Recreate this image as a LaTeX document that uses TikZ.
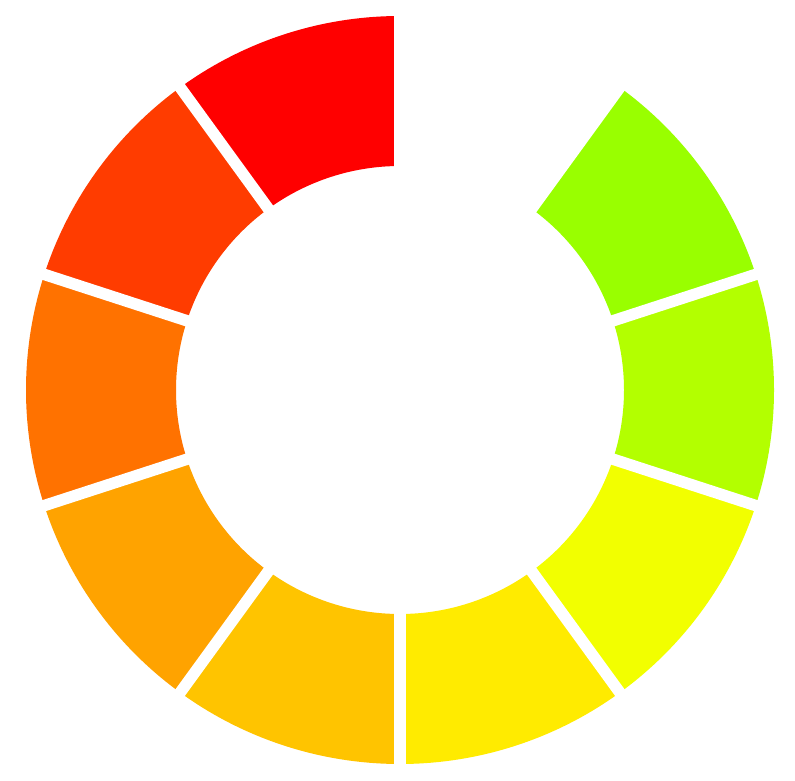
\documentclass[tikz,border=0pt]{standalone}
\definecolor{s1}{HTML}{FF0000}
\definecolor{s2}{HTML}{FF3C00}
\definecolor{s3}{HTML}{FF7200}
\definecolor{s4}{HTML}{FFA300}
\definecolor{s5}{HTML}{FFC400}
\definecolor{s6}{HTML}{FFEB00}
\definecolor{s7}{HTML}{F2FF00}
\definecolor{s8}{HTML}{B3FF00}
\definecolor{s9}{HTML}{99FF00}
\tikzset{gapline/.style={white, line width=11.5pt}}
\begin{document}
\begin{tikzpicture}[x=1pt,y=1pt]
\fill[white] (0,0) rectangle (795,780);
\useasboundingbox (0,0) rectangle (795,780);
\coordinate (c) at (400,390);
\foreach \a/\col in {90/s1,126/s2,162/s3,198/s4,234/s5,270/s6,306/s7,342/s8,378/s9}{
  \pgfmathsetmacro{\b}{\a+36}
  \fill[\col] ([shift={(\a:224)}]c) arc[start angle=\a, end angle=\b, radius=224]
    -- ([shift={(\b:374)}]c) arc[start angle=\b, end angle=\a, radius=374] -- cycle;
}
\foreach \a in {90,126,162,198,234,270,306,342,378,414}{
  \draw[gapline] ([shift={(\a:200)}]c) -- ([shift={(\a:400)}]c);
}
\end{tikzpicture}
\end{document}
